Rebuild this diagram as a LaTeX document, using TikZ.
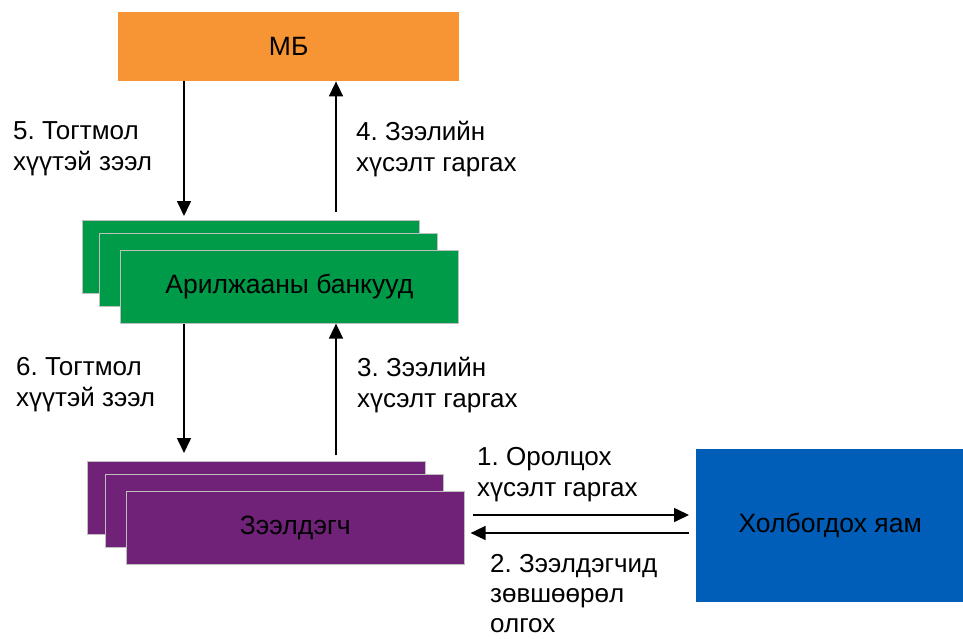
\documentclass[tikz,border=0pt]{standalone}
\usepackage{fontspec}
\setmainfont{Liberation Sans}
\usetikzlibrary{arrows.meta}
\frenchspacing
\definecolor{cbOrange}{RGB}{247,148,51}
\definecolor{cbGreen}{RGB}{0,155,72}
\definecolor{cbPurple}{RGB}{112,33,120}
\definecolor{cbBlue}{RGB}{0,94,184}
\tikzset{
  box/.style={rectangle, inner sep=0pt, anchor=north west, font=\fontsize{26.5}{31}\selectfont},
  stackbox/.style={box, draw=white!75!black, line width=0.6pt},
  lbl/.style={inner sep=0pt, anchor=north west, align=left, font=\fontsize{26}{31}\selectfont},
  arr/.style={-{Triangle[length=15pt,width=14pt]}, line width=1.6pt}
}
\begin{document}
\begin{tikzpicture}[x=1pt,y=-1pt]
\useasboundingbox (0,0) rectangle (963,639);
% MB
\node[box, fill=cbOrange, minimum width=341pt, minimum height=69pt] (mb) at (118,12) {МБ};
% green stack
\node[stackbox, fill=cbGreen, minimum width=337pt, minimum height=73pt] (gb1) at (82,220) {};
\node[stackbox, fill=cbGreen, minimum width=338pt, minimum height=73pt] (gb2) at (99,233) {};
\node[stackbox, fill=cbGreen, minimum width=338pt, minimum height=73pt] (gb3) at (120,250) {Арилжааны банкууд};
% purple stack
\node[stackbox, fill=cbPurple, minimum width=338pt, minimum height=73pt] (pb1) at (87,461) {};
\node[stackbox, fill=cbPurple, minimum width=338pt, minimum height=73pt] (pb2) at (105,474) {};
\node[stackbox, fill=cbPurple, minimum width=338pt, minimum height=73pt] (pb3) at (126,491) {Зээлдэгч};
% blue
\node[box, fill=cbBlue, minimum width=268pt, minimum height=153pt] (blue) at (696,449) {Холбогдох яам};
% guide coordinates
\coordinate (xl) at (184,0);
\coordinate (xr) at (336,0);
\coordinate (yr) at (0,515);
\coordinate (yl) at (0,533);
% vertical arrows
\draw[arr, shorten >=4pt] (mb.south -| xl) -- (gb1.north -| xl);
\draw[arr, shorten <=8pt] (gb1.north -| xr) -- (mb.south -| xr);
\draw[arr, shorten >=8pt] (gb3.south -| xl) -- (pb1.north -| xl);
\draw[arr, shorten <=6pt] (pb1.north -| xr) -- (gb3.south -| xr);
% horizontal arrows
\draw[arr, shorten <=8pt, shorten >=7pt] (pb3.east |- yr) -- (blue.west |- yr);
\draw[arr, shorten <=7pt, shorten >=6pt] (blue.west |- yl) -- (pb3.east |- yl);
% labels
\node[lbl] (l5) at (13,121) {5. Тогтмол\\хүүтэй зээл};
\node[lbl] (l4) at (356,121) {4. Зээлийн\\хүсэлт гаргах};
\node[lbl] (l6) at (16,357) {6. Тогтмол\\хүүтэй зээл};
\node[lbl] (l3) at (357,357) {3. Зээлийн\\хүсэлт гаргах};
\node[lbl] (l1) at (477,447) {1. Оролцох\\хүсэлт гаргах};
\node[lbl, font=\fontsize{26}{30}\selectfont] (l2) at (490,554) {2. Зээлдэгчид\\зөвшөөрөл\\олгох};
\end{tikzpicture}
\end{document}
